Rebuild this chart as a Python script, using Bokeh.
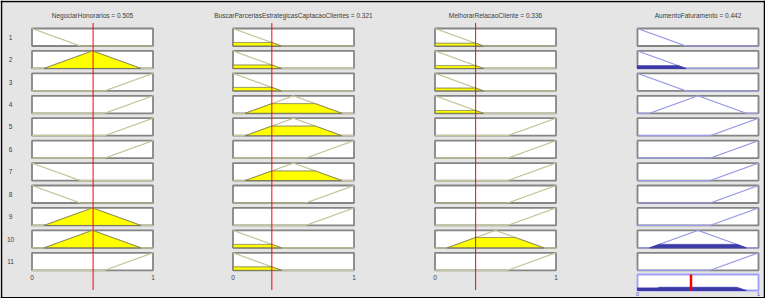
import numpy as np
from bokeh.plotting import figure
from bokeh.models import Range1d
from bokeh.embed import file_html
from bokeh.resources import INLINE
from bokeh.core.properties import value

# ---------------- data ----------------
input_names = ["NegociarHonorarios", "BuscarParceriasEstrategicasCaptacaoClientes", "MelhorarRelacaoCliente"]
input_values = [0.505, 0.321, 0.336]
output_name = "AumentoFaturamento"
output_value = 0.442

# triangular membership functions (a, b, c), same for all variables
mf_params = [[-0.4, 0.0, 0.4], [0.1, 0.5, 0.9], [0.6, 1.0, 1.4]]

# rule table: MF index for each input and the output
rule_in1 = [0, 1, 2, 2, 2, 2, 0, 0, 1, 1, 2]
rule_in2 = [0, 0, 0, 1, 1, 2, 1, 2, 2, 0, 0]
rule_in3 = [0, 0, 0, 0, 2, 2, 2, 2, 2, 1, 2]
rule_out = [0, 0, 0, 1, 2, 2, 2, 2, 2, 1, 2]
rule_labels = [str(i + 1) for i in range(11)]
axis_ticks = [0, 1]

# ---------------- style / layout ----------------
BG = "#e5e5e5"
BOX_LINE = "#858585"
IN_MF = "#c4c496"
IN_FILL = "#ffff00"
IN_EDGE = "#77775a"
OUT_MF = "#9c9ce6"
OUT_FILL = "#3a3aa8"
AGG_BOX = "#a0a0f8"
RED = "#ff0000"
TEXT = "#3c3c3c"
OUT_TEXT = "#5a5ac8"
FONT = value("Liberation Sans")
FS = "6.5px"

W_FIG, H_FIG = 765, 298
LEFTS = [31.5, 232.5, 434.5, 637.0]
BW = 121.0
TOP0, PITCH, BH = 28.0, 22.43, 17.5
AGG_TOP, AGG_BOT = 274.0, 290.0

x = np.linspace(0, 1, 401)


def trimf(xx, prm):
    a, b, c = prm
    return np.maximum(np.minimum((xx - a) / (b - a), (c - xx) / (c - b)), 0.0)


def clip_polygon(mu, level):
    cl = np.minimum(mu, level)
    idx = np.where(cl > 1e-9)[0]
    if len(idx) == 0:
        return None
    i0, i1 = max(idx[0] - 1, 0), min(idx[-1] + 1, len(x) - 1)
    xs = np.concatenate([[x[i0]], x[i0:i1 + 1], [x[i1]]])
    ys = np.concatenate([[0.0], cl[i0:i1 + 1], [0.0]])
    return xs, ys


rules_in = [rule_in1, rule_in2, rule_in3]
degrees = [[float(trimf(np.array([v]), prm)[0]) for prm in mf_params] for v in input_values]
firing = [min(degrees[j][rules_in[j][r]] for j in range(3)) for r in range(11)]

p = figure(width=W_FIG, height=H_FIG, output_backend="svg", toolbar_location=None,
           x_range=Range1d(0, W_FIG), y_range=Range1d(H_FIG, 0),
           x_axis_location=None, y_axis_location=None, min_border=0,
           background_fill_color=BG, border_fill_color=BG, outline_line_color=None)
p.grid.visible = False

# one data x-range per column (MF universe 0..1 mapped onto its boxes)
p.extra_x_ranges = {f"c{ci}": Range1d(-L / BW, (W_FIG - L) / BW) for ci, L in enumerate(LEFTS)}
# one data y-range per rule row (membership 0..1 mapped onto its boxes), plus aggregate row
tops = [TOP0 + k * PITCH for k in range(11)] + [AGG_TOP]
bots = [TOP0 + k * PITCH + BH for k in range(11)] + [AGG_BOT]
yr = {}
for k in range(12):
    s = bots[k] - tops[k]
    yr[f"r{k}"] = Range1d(-(H_FIG - bots[k]) / s, bots[k] / s)
p.extra_y_ranges = yr

for ci in range(4):
    cn = f"c{ci}"
    is_out = ci == 3
    for k in range(11):
        rn = f"r{k}"
        p.quad(left=[0], right=[1], bottom=[0], top=[1], x_range_name=cn, y_range_name=rn,
               fill_color="white", line_color=BOX_LINE, line_width=1.8)
        if is_out:
            mu = trimf(x, mf_params[rule_out[k]])
            p.line(x, mu, x_range_name=cn, y_range_name=rn, line_color=OUT_MF, line_width=1.2)
            poly = clip_polygon(mu, firing[k])
            if poly is not None:
                p.patch(poly[0], poly[1], x_range_name=cn, y_range_name=rn,
                        fill_color=OUT_FILL, line_color=OUT_FILL, line_width=1)
        else:
            mfi = rules_in[ci][k]
            mu = trimf(x, mf_params[mfi])
            p.line(x, mu, x_range_name=cn, y_range_name=rn, line_color=IN_MF, line_width=1.2)
            poly = clip_polygon(mu, degrees[ci][mfi])
            if poly is not None:
                p.patch(poly[0], poly[1], x_range_name=cn, y_range_name=rn,
                        fill_color=IN_FILL, line_color=IN_EDGE, line_width=1)
    if is_out:
        agg = np.zeros_like(x)
        for r in range(11):
            agg = np.maximum(agg, np.minimum(trimf(x, mf_params[rule_out[r]]), firing[r]))
        p.quad(left=[0], right=[1], bottom=[0], top=[1], x_range_name=cn, y_range_name="r11",
               fill_color="white", line_color=AGG_BOX, line_width=1.8)
        poly = clip_polygon(agg, 1.0)
        p.patch(poly[0], poly[1], x_range_name=cn, y_range_name="r11",
                fill_color=OUT_FILL, line_color=OUT_FILL, line_width=1)
        p.segment(x0=[output_value], x1=[output_value], y0=[0], y1=[1],
                  x_range_name=cn, y_range_name="r11", line_color=RED, line_width=2.5)
        p.text(x=axis_ticks, y=[293.5, 293.5], text=[str(t) for t in axis_ticks], x_range_name=cn,
               text_font=FONT, text_font_size="6px", text_color=OUT_TEXT,
               text_align="center", text_baseline="middle")
        title = f"{output_name} = {output_value:.3f}"
    else:
        p.segment(x0=[input_values[ci]], x1=[input_values[ci]], y0=[22.5], y1=[289.5],
                  x_range_name=cn, line_color=RED, line_width=1)
        p.text(x=axis_ticks, y=[277, 277], text=[str(t) for t in axis_ticks], x_range_name=cn,
               text_font=FONT, text_font_size=FS, text_color=TEXT,
               text_align="center", text_baseline="middle")
        title = f"{input_names[ci]} = {input_values[ci]:.3f}"
    p.text(x=[0.5], y=[14.5], text=[title], x_range_name=cn, text_font=FONT, text_font_size=FS,
           text_color=TEXT, text_align="center", text_baseline="middle")

# rule numbers
ys = [TOP0 + k * PITCH + BH / 2 for k in range(11)]
p.text(x=[10] * 11, y=ys, text=rule_labels, text_font=FONT,
       text_font_size=FS, text_color=TEXT, text_align="center", text_baseline="middle")

# outer black frame
p.segment(x0=[0, 0, 1, W_FIG - 1], x1=[W_FIG, W_FIG, 1, W_FIG - 1],
          y0=[1, H_FIG - 0.75, 0, 0], y1=[1, H_FIG - 0.75, H_FIG, H_FIG],
          line_color="black", line_width=1.5)

open("out.html", "w").write(file_html(p, INLINE))
